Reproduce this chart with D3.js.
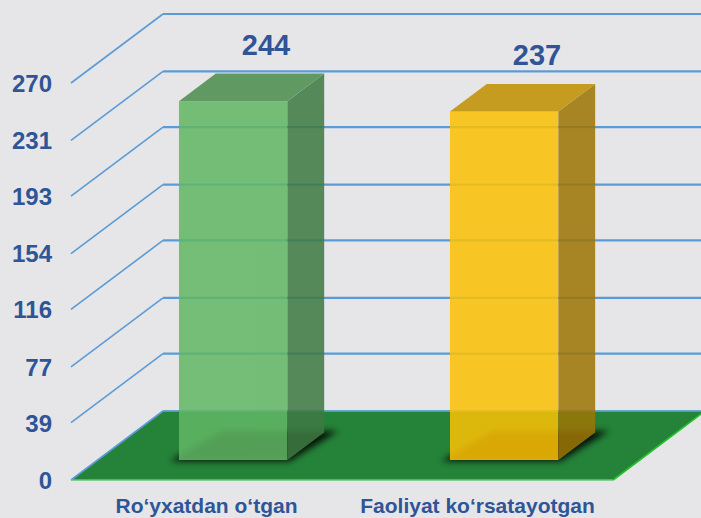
<!DOCTYPE html>
<html>
<head>
<meta charset="utf-8">
<script src="https://cdn.jsdelivr.net/npm/d3@7"></script>
<style>
  html, body { margin: 0; padding: 0; background: #e6e6e8; }
  svg { display: block; }
  text { font-family: "Liberation Sans", Arial, sans-serif; font-weight: bold; }
</style>
</head>
<body>
<div id="chart"></div>
<script>
// Categories and values
const categories = ["Ro‘yxatdan o‘tgan", "Faoliyat ko‘rsatayotgan"];
const values = [244, 237];
const tickValues = [0, 39, 77, 116, 154, 193, 231, 270];
const yMax = 270;

// Face colours per bar: front, top, side
const barFront = ["#61b764", "#fcc105"];
const barTop = ["#4b8e4d", "#c09100"];
const barSide = ["#3f7a43", "#9d7606"];

const W = 701, H = 518;
const TEXT = "#2f5597";
const GRID = "#5b9bd5";

// Oblique projection: floor front edge, depth vector, wall height
const floorFront = { x0: 71, x1: 613, y: 480 };
const depthVec = { dx: 92, dy: -69 };
const wallHeight = 397;

const x = d3.scaleBand().domain(categories).range([floorFront.x0, floorFront.x1]);
const y = d3.scaleLinear().domain([0, yMax]).range([0, wallHeight]);

// Map (front x, depth fraction, value) to screen coordinates
function P(xf, d, v) {
  return [xf + depthVec.dx * d, floorFront.y + depthVec.dy * d - y(v)];
}

const svg = d3.select("#chart").append("svg")
  .attr("width", W).attr("height", H);

svg.append("rect").attr("width", W).attr("height", H).attr("fill", "#e6e6e8");

const defs = svg.append("defs");
defs.append("filter").attr("id", "shadowBlur")
  .attr("x", "-30%").attr("y", "-30%").attr("width", "160%").attr("height", "160%")
  .append("feGaussianBlur").attr("stdDeviation", 3.2);

const line = d3.line();

// Back wall gridlines
const backX0 = floorFront.x0 + depthVec.dx;
svg.append("g").selectAll("line").data(tickValues).join("line")
  .attr("x1", backX0).attr("x2", W + 10)
  .attr("y1", d => P(floorFront.x0, 1, d)[1])
  .attr("y2", d => P(floorFront.x0, 1, d)[1])
  .attr("stroke", GRID).attr("stroke-width", 2.2);

// Side wall gridlines (front to back)
svg.append("g").selectAll("path").data(tickValues.slice(1)).join("path")
  .attr("d", d => line([P(floorFront.x0, 0, d), P(floorFront.x0, 1, d)]))
  .attr("stroke", GRID).attr("stroke-width", 1.6).attr("fill", "none");

// Floor
const floorPts = [P(floorFront.x0, 0, 0), P(floorFront.x1, 0, 0), P(floorFront.x1, 1, 0), P(floorFront.x0, 1, 0)];
svg.append("path").attr("d", line(floorPts) + "Z").attr("fill", "#258239");
svg.append("path").attr("d", line([floorPts[3], floorPts[0]]))
  .attr("stroke", "#5b9bd5").attr("stroke-width", 1.6).attr("fill", "none");
svg.append("path").attr("d", line([floorPts[3], floorPts[2]]))
  .attr("stroke", "#6aa8c8").attr("stroke-width", 1.5).attr("fill", "none");
svg.append("path").attr("d", line([floorPts[0], floorPts[1]]))
  .attr("stroke", "#67c46f").attr("stroke-width", 1.6).attr("fill", "none");
svg.append("path").attr("d", line([floorPts[1], floorPts[2]]))
  .attr("stroke", "#22c02a").attr("stroke-width", 1.8).attr("fill", "none");

// Bars
const barW = x.bandwidth() * 0.4;
const d0 = 0.29, d1 = 0.69;
const bars = categories.map((c, i) => {
  const xl = x(c) + (x.bandwidth() - barW) / 2;
  return { c, i, v: values[i], xl, xr: xl + barW };
});

// Shadows cast onto the floor
svg.append("g").selectAll("path").data(bars).join("path")
  .attr("d", b => line([
    P(b.xl - 7, d0 - 0.02, 0), P(b.xr + 4, d0 - 0.02, 0),
    P(b.xr + 12, d1 + 0.02, 0), P(b.xl + 4, d1 + 0.02, 0)
  ]) + "Z")
  .attr("fill", "#000").attr("opacity", 0.85)
  .attr("filter", "url(#shadowBlur)");

const gBars = svg.append("g").attr("opacity", 0.86);
bars.forEach(b => {
  const g = gBars.append("g");
  // front face
  g.append("path").attr("d", line([
    P(b.xl, d0, 0), P(b.xr, d0, 0), P(b.xr, d0, b.v), P(b.xl, d0, b.v)
  ]) + "Z").attr("fill", barFront[b.i]);
  // right side face
  g.append("path").attr("d", line([
    P(b.xr, d0, 0), P(b.xr, d1, 0), P(b.xr, d1, b.v), P(b.xr, d0, b.v)
  ]) + "Z").attr("fill", barSide[b.i]);
  // top face
  g.append("path").attr("d", line([
    P(b.xl, d0, b.v), P(b.xr, d0, b.v), P(b.xr, d1, b.v), P(b.xl, d1, b.v)
  ]) + "Z").attr("fill", barTop[b.i]);
});

// Value labels above bars
svg.append("g").selectAll("text").data(bars).join("text")
  .attr("x", b => P((b.xl + b.xr) / 2, d1, b.v)[0] - 4)
  .attr("y", b => P((b.xl + b.xr) / 2, d1, b.v)[1] - 18.5)
  .attr("text-anchor", "middle")
  .attr("font-size", 29).attr("fill", TEXT)
  .text(b => b.v);

// Value axis on the front-left edge
const yFront = d3.scaleLinear().domain([0, yMax]).range([floorFront.y, floorFront.y - wallHeight]);
const yAxis = svg.append("g")
  .attr("transform", `translate(${floorFront.x0 - 19},0)`)
  .call(d3.axisLeft(yFront).tickValues(tickValues).tickSize(0).tickPadding(0).tickFormat(d3.format("d")));
yAxis.select(".domain").remove();
yAxis.selectAll("text")
  .attr("font-size", 24).attr("fill", TEXT)
  .attr("font-family", "'Liberation Sans', Arial, sans-serif")
  .attr("font-weight", "bold").attr("dy", "0.35em");

// Category axis along the floor front edge
const xAxis = svg.append("g")
  .attr("transform", `translate(0,${floorFront.y})`)
  .call(d3.axisBottom(x).tickSize(0).tickPadding(0));
xAxis.select(".domain").remove();
xAxis.selectAll("text")
  .attr("font-size", 21).attr("fill", TEXT)
  .attr("font-family", "'Liberation Sans', Arial, sans-serif")
  .attr("font-weight", "bold").attr("y", 33).attr("dy", 0);
</script>
</body>
</html>
